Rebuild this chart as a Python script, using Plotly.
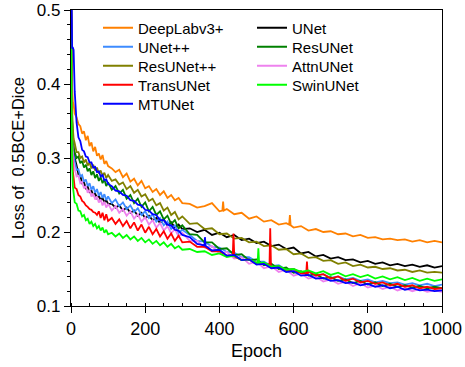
import plotly.graph_objects as go

# ---------------- data ----------------
EPOCHS = ([0, 1, 2, 3, 5, 7] + list(range(10, 101, 5)) + list(range(110, 301, 10))
          + list(range(320, 1001, 20)))

loss_deeplab = [0.560, 0.450, 0.405, 0.395, 0.376, 0.372, 0.360, 0.355, 0.346, 0.343, 0.333, 0.336, 0.324, 0.330, 0.316, 0.321, 0.309, 0.315, 0.303, 0.306, 0.298, 0.304, 0.292, 0.296, 0.289,
                0.286, 0.281, 0.284, 0.274, 0.279, 0.268, 0.272, 0.263, 0.269, 0.259, 0.262, 0.254, 0.258, 0.250, 0.255, 0.246, 0.250, 0.243, 0.246, 0.239,
                0.238, 0.233, 0.235, 0.239, 0.228, 0.231, 0.224, 0.226, 0.218, 0.221, 0.214, 0.216, 0.210, 0.212, 0.206, 0.208, 0.202, 0.204, 0.200, 0.201,
                0.197, 0.198, 0.194, 0.196, 0.192, 0.193, 0.190, 0.191, 0.189, 0.190, 0.187, 0.189, 0.186, 0.188, 0.186]
loss_unet = [0.540, 0.430, 0.380, 0.350, 0.325, 0.310, 0.300, 0.290, 0.278, 0.276, 0.266, 0.267, 0.259, 0.261, 0.254, 0.256, 0.250, 0.252, 0.246, 0.249, 0.243, 0.246, 0.240, 0.243, 0.238,
             0.238, 0.233, 0.236, 0.229, 0.233, 0.226, 0.229, 0.222, 0.226, 0.219, 0.222, 0.216, 0.219, 0.212, 0.217, 0.209, 0.213, 0.206, 0.210, 0.204,
             0.205, 0.200, 0.203, 0.196, 0.199, 0.193, 0.196, 0.189, 0.191, 0.185, 0.187, 0.181, 0.183, 0.177, 0.179, 0.171, 0.173, 0.167, 0.169, 0.164,
             0.166, 0.162, 0.163, 0.159, 0.161, 0.157, 0.159, 0.155, 0.157, 0.154, 0.156, 0.153, 0.155, 0.152, 0.154]
loss_unetpp = [0.530, 0.420, 0.365, 0.335, 0.310, 0.300, 0.295, 0.284, 0.285, 0.275, 0.277, 0.268, 0.271, 0.262, 0.266, 0.257, 0.262, 0.253, 0.258, 0.249, 0.254, 0.246, 0.251, 0.243, 0.248,
               0.239, 0.244, 0.235, 0.240, 0.231, 0.236, 0.227, 0.232, 0.223, 0.228, 0.219, 0.224, 0.214, 0.219, 0.209, 0.214, 0.204, 0.209, 0.199, 0.203,
               0.196, 0.188, 0.187, 0.180, 0.179, 0.173, 0.172, 0.166, 0.166, 0.160, 0.160, 0.154, 0.155, 0.149, 0.150, 0.144, 0.146, 0.141, 0.143, 0.138,
               0.140, 0.136, 0.138, 0.134, 0.136, 0.132, 0.134, 0.131, 0.132, 0.129, 0.131, 0.128, 0.130, 0.127, 0.129]
loss_resunet = [0.530, 0.430, 0.380, 0.350, 0.325, 0.312, 0.308, 0.300, 0.302, 0.293, 0.296, 0.287, 0.291, 0.282, 0.286, 0.277, 0.282, 0.273, 0.278, 0.269, 0.274, 0.266, 0.271, 0.262, 0.267,
                0.257, 0.262, 0.252, 0.257, 0.245, 0.250, 0.239, 0.245, 0.234, 0.240, 0.228, 0.234, 0.223, 0.228, 0.217, 0.222, 0.211, 0.216, 0.205, 0.209,
                0.197, 0.196, 0.186, 0.186, 0.177, 0.178, 0.169, 0.170, 0.162, 0.163, 0.155, 0.157, 0.150, 0.152, 0.145, 0.147, 0.141, 0.143, 0.137, 0.139,
                0.134, 0.136, 0.131, 0.134, 0.129, 0.132, 0.127, 0.130, 0.126, 0.128, 0.125, 0.127, 0.124, 0.126, 0.124]
loss_resunetpp = [0.540, 0.440, 0.390, 0.365, 0.340, 0.326, 0.320, 0.308, 0.308, 0.300, 0.302, 0.294, 0.298, 0.290, 0.294, 0.286, 0.291, 0.283, 0.287, 0.279, 0.283, 0.276, 0.280, 0.273, 0.277,
                  0.269, 0.271, 0.264, 0.267, 0.258, 0.262, 0.253, 0.257, 0.248, 0.251, 0.242, 0.245, 0.236, 0.239, 0.229, 0.233, 0.223, 0.227, 0.217, 0.221,
                  0.211, 0.212, 0.204, 0.205, 0.197, 0.198, 0.191, 0.192, 0.186, 0.187, 0.181, 0.182, 0.176, 0.177, 0.170, 0.171, 0.165, 0.166, 0.161, 0.162,
                  0.157, 0.159, 0.154, 0.156, 0.152, 0.153, 0.150, 0.151, 0.148, 0.149, 0.146, 0.148, 0.145, 0.146, 0.145]
loss_attnunet = [0.520, 0.420, 0.360, 0.330, 0.300, 0.290, 0.285, 0.275, 0.276, 0.266, 0.268, 0.259, 0.262, 0.253, 0.257, 0.248, 0.252, 0.244, 0.248, 0.240, 0.244, 0.236, 0.241, 0.233, 0.238,
                 0.229, 0.235, 0.226, 0.231, 0.222, 0.228, 0.218, 0.224, 0.214, 0.220, 0.210, 0.216, 0.206, 0.212, 0.202, 0.208, 0.198, 0.204, 0.194, 0.199,
                 0.188, 0.188, 0.179, 0.181, 0.171, 0.173, 0.164, 0.166, 0.157, 0.160, 0.151, 0.154, 0.146, 0.149, 0.141, 0.144, 0.137, 0.140, 0.133, 0.136,
                 0.130, 0.133, 0.127, 0.131, 0.125, 0.128, 0.123, 0.126, 0.121, 0.124, 0.120, 0.123, 0.119, 0.121, 0.119]
loss_transunet = [0.520, 0.400, 0.340, 0.310, 0.282, 0.272, 0.260, 0.258, 0.250, 0.248, 0.242, 0.240, 0.236, 0.234, 0.231, 0.230, 0.227, 0.226, 0.223, 0.228, 0.219, 0.226, 0.216, 0.224, 0.215,
                  0.219, 0.211, 0.217, 0.208, 0.215, 0.205, 0.213, 0.202, 0.210, 0.199, 0.207, 0.197, 0.204, 0.194, 0.201, 0.191, 0.198, 0.188, 0.195, 0.186,
                  0.187, 0.180, 0.180, 0.174, 0.174, 0.168, 0.168, 0.162, 0.163, 0.157, 0.158, 0.152, 0.154, 0.148, 0.150, 0.144, 0.147, 0.141, 0.143, 0.137,
                  0.140, 0.134, 0.137, 0.132, 0.134, 0.130, 0.132, 0.128, 0.130, 0.126, 0.128, 0.124, 0.126, 0.123, 0.124]
loss_swinunet = [0.520, 0.370, 0.330, 0.290, 0.262, 0.250, 0.240, 0.238, 0.229, 0.228, 0.221, 0.223, 0.216, 0.218, 0.211, 0.214, 0.208, 0.211, 0.205, 0.208, 0.202, 0.206, 0.199, 0.203, 0.197,
                 0.199, 0.194, 0.198, 0.192, 0.196, 0.190, 0.194, 0.188, 0.192, 0.186, 0.190, 0.184, 0.188, 0.182, 0.186, 0.180, 0.184, 0.178, 0.181, 0.176,
                 0.177, 0.173, 0.174, 0.169, 0.171, 0.166, 0.168, 0.162, 0.163, 0.158, 0.159, 0.153, 0.154, 0.149, 0.150, 0.146, 0.148, 0.144, 0.147, 0.142,
                 0.145, 0.140, 0.143, 0.139, 0.142, 0.137, 0.140, 0.136, 0.139, 0.135, 0.138, 0.134, 0.137, 0.134, 0.136]
loss_mtunet = [0.600, 0.520, 0.455, 0.449, 0.449, 0.446, 0.390, 0.348, 0.328, 0.323, 0.311, 0.309, 0.302, 0.301, 0.294, 0.294, 0.287, 0.288, 0.281, 0.282, 0.275, 0.277, 0.270, 0.271, 0.265,
               0.262, 0.256, 0.255, 0.250, 0.249, 0.243, 0.242, 0.237, 0.236, 0.230, 0.229, 0.224, 0.223, 0.216, 0.216, 0.210, 0.209, 0.203, 0.202, 0.196,
               0.193, 0.184, 0.184, 0.175, 0.176, 0.168, 0.169, 0.162, 0.163, 0.156, 0.157, 0.151, 0.152, 0.146, 0.147, 0.141, 0.142, 0.137, 0.138, 0.134,
               0.135, 0.131, 0.132, 0.128, 0.130, 0.126, 0.128, 0.124, 0.126, 0.122, 0.124, 0.121, 0.122, 0.120, 0.121]

# isolated spikes (epoch, loss)
spike_deeplab_ep = [408, 410, 412, 588, 590, 592]
spike_deeplab_val = [0.229, 0.241, 0.229, 0.210, 0.223, 0.209]
spike_trans_ep = [436, 438, 440, 535, 537, 539, 634, 636, 638]
spike_trans_val = [0.168, 0.198, 0.167, 0.155, 0.205, 0.154, 0.144, 0.160, 0.143]
spike_swin_ep = [503, 505, 507]
spike_swin_val = [0.158, 0.178, 0.158]
spike_mt_ep = [359, 361, 363]
spike_mt_val = [0.182, 0.193, 0.181]

MODELS = ["DeepLabv3+", "UNet", "UNet++", "ResUNet", "ResUNet++", "AttnUNet", "TransUNet", "SwinUNet", "MTUNet"]
COLORS = ["#ff8000", "#000000", "#3d8bff", "#008000", "#808000", "#ee82ee", "#ff0000", "#00ff00", "#0000ff"]

SERIES = [loss_deeplab, loss_unet, loss_unetpp, loss_resunet, loss_resunetpp,
          loss_attnunet, loss_transunet, loss_swinunet, loss_mtunet]
SPIKES = {0: (spike_deeplab_ep, spike_deeplab_val), 6: (spike_trans_ep, spike_trans_val),
          7: (spike_swin_ep, spike_swin_val), 8: (spike_mt_ep, spike_mt_val)}

for s in SERIES:
    assert len(s) == len(EPOCHS), (len(s), len(EPOCHS))


def merged(i):
    pts = list(zip(EPOCHS, SERIES[i]))
    if i in SPIKES:
        pts += list(zip(*SPIKES[i]))
    pts.sort(key=lambda p: p[0])
    return [p[0] for p in pts], [p[1] for p in pts]


FONT = "Arial, Liberation Sans, sans-serif"
PLOT_L, PLOT_T, PLOT_W, PLOT_H = 71, 10, 371, 296
# legend layout: two columns, row-wise order (pixel positions of the entries)
LEG_X_PX = [98, 252]
LEG_Y_PX = [28, 47, 66, 85, 104]

fig = go.Figure()
layout_legends = {}
for i, name in enumerate(MODELS):
    x, y = merged(i)
    key = "legend" if i == 0 else f"legend{i + 1}"
    fig.add_trace(go.Scatter(x=x, y=y, mode="lines", name=name, showlegend=True,
                             line=dict(color=COLORS[i], width=1.8),
                             legend=key))
    col, row = i % 2, i // 2
    layout_legends[key] = dict(
        x=(LEG_X_PX[col] - PLOT_L) / PLOT_W,
        y=1 - (LEG_Y_PX[row] - PLOT_T) / PLOT_H,
        xanchor="left", yanchor="middle",
        bgcolor="rgba(0,0,0,0)", borderwidth=0,
        font=dict(family=FONT, size=15, color="#000"), itemwidth=30)

fig.update_layout(
    width=465, height=367,
    showlegend=True,
    margin=dict(l=71, r=23, t=10, b=61),
    paper_bgcolor="white", plot_bgcolor="white",
    font=dict(family=FONT, color="#000"),
    xaxis=dict(range=[0, 1000], dtick=200, tick0=0, showgrid=False, zeroline=False, automargin=False,
               showline=True, linecolor="#000", linewidth=1.2, mirror=True,
               ticks="outside", ticklen=6, tickwidth=1, tickcolor="#000",
               tickfont=dict(size=18, family=FONT),
               minor=dict(dtick=50, ticks="inside", ticklen=3, tickcolor="#000", showgrid=False),
               title=dict(text="Epoch", font=dict(size=18, family=FONT), standoff=6)),
    yaxis=dict(range=[0.1, 0.5], dtick=0.1, tick0=0.1, showgrid=False, zeroline=False, automargin=False,
               showline=True, linecolor="#000", linewidth=1.2, mirror=True,
               ticks="outside", ticklen=6, tickwidth=1, tickcolor="#000",
               tickfont=dict(size=17, family=FONT),
               minor=dict(dtick=0.02, ticks="outside", ticklen=3, tickcolor="#000", showgrid=False),
               title=dict(text="Loss of\u00a0 0.5BCE+Dice", font=dict(size=16.5, family=FONT), standoff=8)),
    **layout_legends,
)
fig.write_html("out.html")
